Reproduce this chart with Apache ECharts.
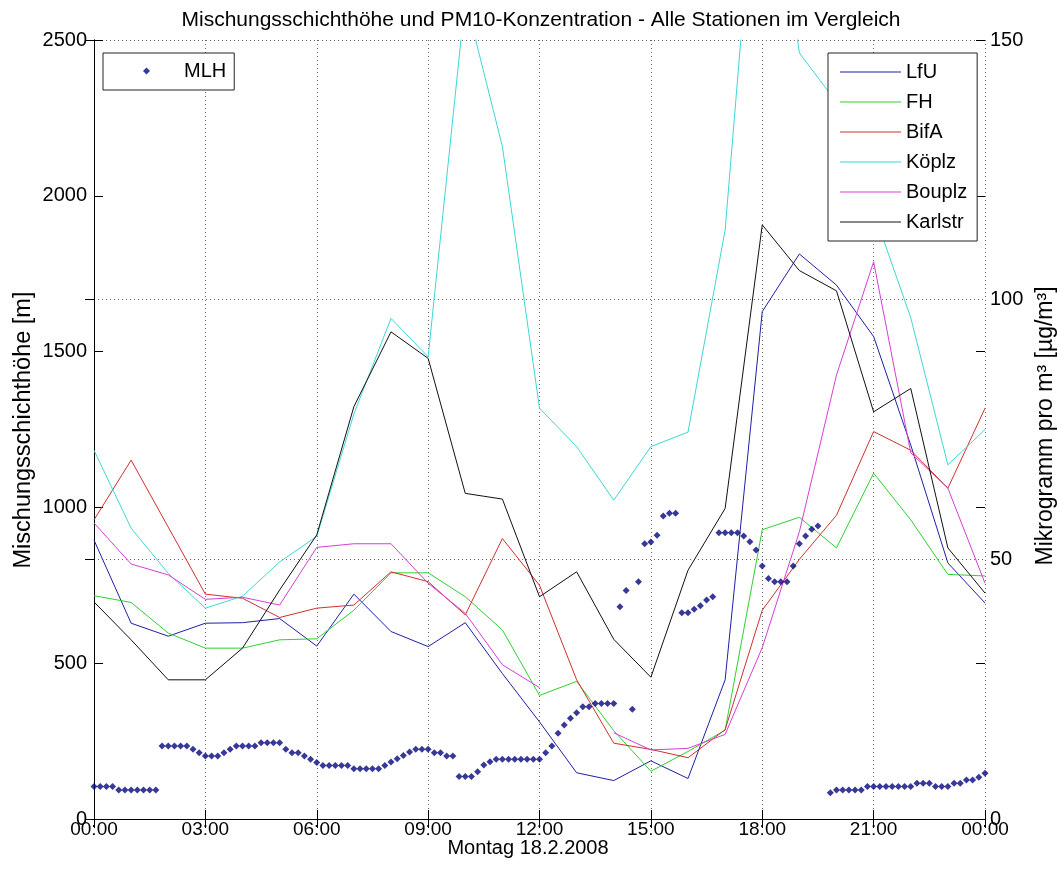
<!DOCTYPE html>
<html>
<head>
<meta charset="utf-8">
<title>Mischungsschichthöhe und PM10</title>
<script src="https://cdn.jsdelivr.net/npm/echarts@6/dist/echarts.min.js"></script>
<style>
  html, body { margin: 0; padding: 0; background: #fff; }
  #chart { width: 1057px; height: 878px; }
</style>
</head>
<body>
<div id="chart"></div>
<script>
// Stunden (volle Stunde) für die PM10-Werte
var hours = [0, 1, 2, 3, 4, 5, 6, 7, 8, 9, 10, 11, 12, 13, 14, 15, 16, 17, 18, 19, 20, 21, 22, 23, 24];

// PM10 in µg/m³, je Station
var lfu     = [53.7, 37.7, 35.2, 37.7, 37.8, 38.6, 33.3, 43.3, 36.1, 33.2, 37.8, 28, 18.7, 8.9, 7.4, 11.2, 7.8, 26.8, 97.7, 108.8, 102.8, 92.9, 72, 49.3, 41.6];
var fh      = [43, 41.7, 35.8, 32.9, 32.9, 34.5, 34.7, 40.2, 47.4, 47.4, 42.8, 36.4, 23.8, 26.5, 17, 9.2, 13, 17.1, 55.7, 58.1, 52.2, 66.6, 57.6, 47.1, 46.8];
var bifa    = [57.6, 69.1, 56.2, 43.3, 42.5, 38.8, 40.6, 41.2, 47.6, 45.7, 39.3, 54, 45, 26.8, 14.6, 13.4, 11.8, 17.2, 40.2, 50, 58.5, 74.6, 71, 63.7, 79.1];
var koeplz  = [71, 56, 47.3, 40.6, 42.9, 49.5, 54.4, 78, 96.4, 89, 158, 129.5, 79.1, 71.7, 61.4, 71.7, 74.5, 113.4, 200, 147.5, 138, 117, 96.5, 68.2, 75];
var bouplz  = [57, 49.1, 47, 42.3, 42.7, 41.2, 52.3, 53, 53, 45.4, 39.6, 29.7, 25.3, null, 16.6, 13.3, 13.6, 16.3, 33, 55.3, 85.5, 107.3, 70.5, 63.7, 45.4];
var karlstr = [41.8, 34.5, 26.8, 26.8, 32.9, 44.1, 54.7, 79.4, 93.8, 88.7, 62.7, 61.6, 42.8, 47.6, 34.6, 27.3, 47.9, 59.8, 114.4, 105.6, 101.7, 78.4, 82.9, 52.2, 43.5];

// Mischungsschichthöhe in m, alle 10 Minuten von 00:00 bis 24:00 (null = kein Wert)
var mlh = [
  104, 104, 104, 104, 93, 93, 93, 93, 93, 93, 93, 234,          // 00:00 - 01:50
  234, 234, 234, 234, 224, 213, 202, 202, 202, 213, 224, 234,   // 02:00 - 03:50
  234, 234, 234, 245, 245, 245, 245, 224, 213, 213, 202, 192,   // 04:00 - 05:50
  181, 172, 172, 172, 172, 172, 161, 161, 161, 161, 161, 172,   // 06:00 - 07:50
  183, 193, 204, 215, 224, 224, 224, 213, 213, 202, 202, 136,   // 08:00 - 09:50
  136, 136, 152, 173, 184, 192, 192, 192, 192, 192, 192, 192,   // 10:00 - 11:50
  192, 213, 234, 275, 302, 323, 341, 360, 360, 371, 371, 371,   // 12:00 - 13:50
  371, 681, 733, 352, 761, 883, 889, 911, 972, 981, 981, 662,   // 14:00 - 15:50
  662, 673, 684, 703, 713, 919, 919, 919, 919, 908, 890, 863,   // 16:00 - 17:50
  812, 772, 761, 761, 761, 812, 883, 908, 930, 940, null, 84,   // 18:00 - 19:50
  93, 93, 93, 93, 93, 104, 104, 104, 104, 104, 104, 104,        // 20:00 - 21:50
  104, 115, 115, 115, 104, 104, 104, 115, 115, 125, 125, 134,   // 22:00 - 23:50
  147                                                           // 24:00
];

var stations = ['LfU', 'FH', 'BifA', 'Köplz', 'Bouplz', 'Karlstr'];
var stationValues = [lfu, fh, bifa, koeplz, bouplz, karlstr];
var stationColors = ['#1f1fa6', '#2fd02f', '#d03030', '#3ed6d6', '#d63ed6', '#111111'];

var FONT = '"Liberation Sans", Arial, sans-serif';

function pairs(values) {
  var out = [];
  for (var i = 0; i < hours.length; i++) {
    out.push([hours[i], values[i]]);
  }
  return out;
}

var mlhData = [];
for (var i = 0; i < mlh.length; i++) {
  if (mlh[i] !== null) {
    mlhData.push([i / 6, mlh[i]]);
  }
}

function timeLabel(v) {
  var h = v % 24;
  return (h < 10 ? '0' + h : '' + h) + ':00';
}

function plainLabel(v) {
  return '' + v;
}

var series = [{
  name: 'MLH',
  type: 'scatter',
  xAxisIndex: 0,
  yAxisIndex: 0,
  data: mlhData,
  symbol: 'diamond',
  symbolSize: 7,
  itemStyle: { color: '#06067e' },
  z: 3
}];
for (var s = 0; s < stations.length; s++) {
  series.push({
    name: stations[s],
    type: 'line',
    xAxisIndex: 0,
    yAxisIndex: 1,
    data: pairs(stationValues[s]),
    symbol: 'none',
    connectNulls: false,
    lineStyle: { color: stationColors[s], width: 1 },
    itemStyle: { color: stationColors[s] },
    z: 2
  });
}

var lineLegend = [];
for (var k = 0; k < stations.length; k++) {
  lineLegend.push({ name: stations[k], icon: 'rect' });
}

var myChart = echarts.init(document.getElementById('chart'));
var option = {
  animation: false,
  backgroundColor: '#fff',
  textStyle: { fontFamily: FONT },
  title: {
    text: 'Mischungsschichthöhe und PM10-Konzentration - Alle Stationen im Vergleich',
    left: 536,
    top: 5,
    textAlign: 'center',
    textStyle: { fontFamily: FONT, fontSize: 21, fontWeight: 'normal', color: '#000' }
  },
  grid: {
    left: 94,
    right: 72,
    top: 40,
    bottom: 59,
    containLabel: false
  },
  legend: [{
    data: [{ name: 'MLH', icon: 'diamond' }],
    left: 103,
    top: 53,
    orient: 'vertical',
    itemWidth: 7,
    itemHeight: 7,
    padding: [8, 8, 9, 40],
    backgroundColor: '#fff',
    borderColor: '#222',
    borderWidth: 1,
    borderRadius: 0,
    selectedMode: false,
    textStyle: { fontFamily: FONT, fontSize: 20, color: '#000', lineHeight: 20, padding: [0, 0, 0, 29] }
  }, {
    data: lineLegend,
    left: 828,
    top: 53,
    orient: 'vertical',
    itemWidth: 61,
    itemHeight: 1,
    itemGap: 10,
    padding: [9, 10, 9, 12],
    backgroundColor: '#fff',
    borderColor: '#222',
    borderWidth: 1,
    borderRadius: 0,
    selectedMode: false,
    textStyle: { fontFamily: FONT, fontSize: 20, color: '#000', lineHeight: 20 }
  }],
  xAxis: [{
    type: 'value',
    position: 'bottom',
    min: 0,
    max: 24,
    interval: 3,
    axisLine: { lineStyle: { color: '#000', width: 1 } },
    axisTick: { inside: true, length: 9, lineStyle: { color: '#000' } },
    axisLabel: {
      formatter: timeLabel,
      margin: 1,
      color: '#000',
      fontFamily: FONT,
      fontSize: 19
    },
    splitLine: { show: true, lineStyle: { color: '#666', type: [1, 3], width: 1 } }
  }, {
    type: 'value',
    position: 'top',
    min: 0,
    max: 24,
    interval: 3,
    axisLine: { lineStyle: { color: '#000', width: 1 } },
    axisTick: { inside: true, length: 9, lineStyle: { color: '#000' } },
    axisLabel: { show: false },
    splitLine: { show: false }
  }],
  yAxis: [{
    type: 'value',
    position: 'left',
    min: 0,
    max: 2500,
    interval: 500,
    axisLine: { show: true, lineStyle: { color: '#000', width: 1 } },
    axisTick: { show: true, inside: true, length: 9, lineStyle: { color: '#000' } },
    axisLabel: { formatter: plainLabel, margin: 7, color: '#000', fontFamily: FONT, fontSize: 20 },
    splitLine: { show: false }
  }, {
    type: 'value',
    position: 'right',
    min: 0,
    max: 150,
    interval: 50,
    axisLine: { show: true, lineStyle: { color: '#000', width: 1 } },
    axisTick: { show: true, inside: true, length: 9, lineStyle: { color: '#000' } },
    axisLabel: { formatter: plainLabel, margin: 5, color: '#000', fontFamily: FONT, fontSize: 20 },
    splitLine: { show: true, lineStyle: { color: '#666', type: [1, 3], width: 1 } }
  }, {
    // Ticks der linken Achse auch rechts (Box)
    type: 'value',
    position: 'right',
    offset: 0,
    min: 0,
    max: 2500,
    interval: 500,
    axisLine: { show: false },
    axisTick: { show: true, inside: true, length: 9, lineStyle: { color: '#000' } },
    axisLabel: { show: false },
    splitLine: { show: false }
  }],
  graphic: [{
    type: 'text',
    x: 528,
    y: 848,
    style: {
      text: 'Montag 18.2.2008',
      font: '20px ' + FONT,
      fill: '#000',
      textAlign: 'center',
      textVerticalAlign: 'middle'
    }
  }, {
    type: 'text',
    x: 24,
    y: 430,
    rotation: Math.PI / 2,
    style: {
      text: 'Mischungsschichthöhe [m]',
      font: '23.5px ' + FONT,
      fill: '#000',
      textAlign: 'center',
      textVerticalAlign: 'middle'
    }
  }, {
    type: 'text',
    x: 1046,
    y: 426,
    rotation: Math.PI / 2,
    style: {
      text: 'Mikrogramm pro m³ [µg/m³]',
      font: '23px ' + FONT,
      fill: '#000',
      textAlign: 'center',
      textVerticalAlign: 'middle'
    }
  }],
  series: series
};
myChart.setOption(option);
</script>
</body>
</html>
